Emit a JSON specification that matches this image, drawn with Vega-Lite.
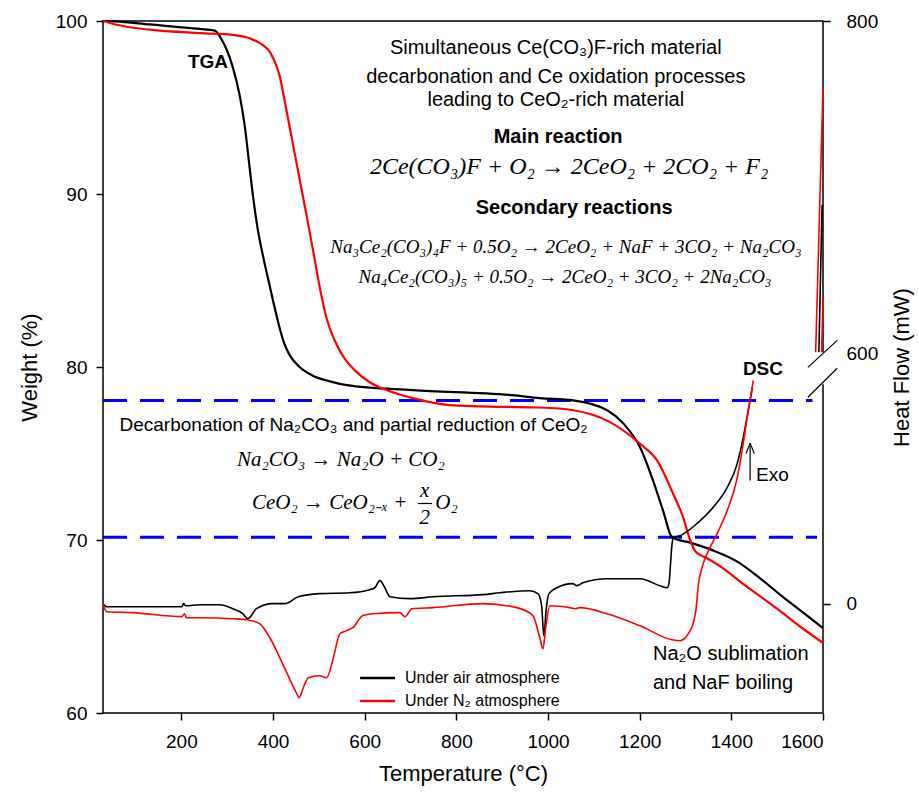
{
  "$schema": "https://vega.github.io/schema/vega-lite/v6.json",
  "width": 720,
  "height": 692,
  "autosize": {"type": "none"},
  "padding": {"left": 103, "top": 21, "right": 96, "bottom": 84},
  "background": "white",
  "config": {
    "font": "Liberation Sans",
    "view": {"stroke": "#000000", "strokeWidth": 1.5},
    "axis": {
      "grid": false, "domain": false, "tickColor": "#000000", "tickWidth": 1.5, "tickSize": 7,
      "labelColor": "#000000", "titleColor": "#000000", "labelFontSize": 19, "titleFontSize": 22,
      "titleFontWeight": "normal", "labelFont": "Liberation Sans", "titleFont": "Liberation Sans"
    }
  },
  "datasets": {
    "tga": [
      {"atm":"air","T":30,"w":100},{"atm":"air","T":54,"w":99.98},{"atm":"air","T":131,"w":99.8},{"atm":"air","T":240,"w":99.54},
      {"atm":"air","T":273,"w":99.44},{"atm":"air","T":288,"w":98.92},{"atm":"air","T":299,"w":98.34},{"atm":"air","T":312,"w":97.35},
      {"atm":"air","T":327,"w":95.73},{"atm":"air","T":338,"w":93.99},{"atm":"air","T":347,"w":91.97},{"atm":"air","T":356,"w":89.94},
      {"atm":"air","T":367,"w":87.91},{"atm":"air","T":380,"w":86.18},{"atm":"air","T":391,"w":84.9},{"atm":"air","T":402,"w":83.6},
      {"atm":"air","T":413,"w":82.4},{"atm":"air","T":424,"w":81.4},{"atm":"air","T":436,"w":80.7},{"atm":"air","T":458,"w":80.0},
      {"atm":"air","T":487,"w":79.5},{"atm":"air","T":524,"w":79.17},{"atm":"air","T":561,"w":78.95},{"atm":"air","T":705,"w":78.66},
      {"atm":"air","T":923,"w":78.37},{"atm":"air","T":982,"w":78.2},{"atm":"air","T":1055,"w":78.07},{"atm":"air","T":1129,"w":77.5},
      {"atm":"air","T":1164,"w":76.75},{"atm":"air","T":1201,"w":75.35},{"atm":"air","T":1229,"w":73.45},{"atm":"air","T":1251,"w":71.7},
      {"atm":"air","T":1271,"w":70.14},{"atm":"air","T":1310,"w":69.85},{"atm":"air","T":1360,"w":69.4},{"atm":"air","T":1413,"w":68.75},
      {"atm":"air","T":1462,"w":67.8},{"atm":"air","T":1513,"w":66.7},{"atm":"air","T":1557,"w":65.8},{"atm":"air","T":1600,"w":64.9},
      {"atm":"N2","T":30,"w":100},{"atm":"N2","T":59,"w":99.78},{"atm":"N2","T":131,"w":99.5},{"atm":"N2","T":240,"w":99.3},
      {"atm":"N2","T":312,"w":99.2},{"atm":"N2","T":349,"w":99.0},{"atm":"N2","T":378,"w":98.6},{"atm":"N2","T":393,"w":98.22},
      {"atm":"N2","T":406,"w":97.5},{"atm":"N2","T":415,"w":96.77},{"atm":"N2","T":426,"w":95.3},{"atm":"N2","T":436,"w":93.9},
      {"atm":"N2","T":452,"w":91.7},{"atm":"N2","T":465,"w":89.9},{"atm":"N2","T":487,"w":86.8},{"atm":"N2","T":502,"w":84.6},
      {"atm":"N2","T":517,"w":82.8},{"atm":"N2","T":535,"w":81.5},{"atm":"N2","T":556,"w":80.5},{"atm":"N2","T":578,"w":79.82},
      {"atm":"N2","T":611,"w":79.12},{"atm":"N2","T":655,"w":78.6},{"atm":"N2","T":705,"w":78.2},
      {"atm":"N2","T":786,"w":77.8},{"atm":"N2","T":900,"w":77.7},{"atm":"N2","T":982,"w":77.66},{"atm":"N2","T":1055,"w":77.5},
      {"atm":"N2","T":1129,"w":76.9},{"atm":"N2","T":1201,"w":75.56},{"atm":"N2","T":1238,"w":74.6},{"atm":"N2","T":1273,"w":72.67},
      {"atm":"N2","T":1295,"w":71.3},{"atm":"N2","T":1310,"w":70.0},{"atm":"N2","T":1320,"w":69.4},{"atm":"N2","T":1335,"w":69.1},
      {"atm":"N2","T":1347,"w":68.95},{"atm":"N2","T":1380,"w":68.4},{"atm":"N2","T":1419,"w":67.6},{"atm":"N2","T":1460,"w":66.8},
      {"atm":"N2","T":1506,"w":65.9},{"atm":"N2","T":1550,"w":65.0},{"atm":"N2","T":1600,"w":64.05}
    ],
    "dsc": [
      {"atm":"air","seg":"a","T":29,"hf":66.32},{"atm":"air","seg":"a","T":37,"hf":66.14},{"atm":"air","seg":"a","T":150,"hf":66.14},
      {"atm":"air","seg":"a","T":201,"hf":66.14},{"atm":"air","seg":"a","T":205,"hf":66.32},{"atm":"air","seg":"a","T":209,"hf":66.2},
      {"atm":"air","seg":"a","T":240,"hf":66.26},{"atm":"air","seg":"a","T":284,"hf":66.26},{"atm":"air","seg":"a","T":312,"hf":66.03},
      {"atm":"air","seg":"a","T":334,"hf":65.74},{"atm":"air","seg":"a","T":345,"hf":65.45},{"atm":"air","seg":"a","T":364,"hf":66.03},
      {"atm":"air","seg":"a","T":399,"hf":66.32},{"atm":"air","seg":"a","T":426,"hf":66.32},{"atm":"air","seg":"a","T":455,"hf":66.72},
      {"atm":"air","seg":"a","T":502,"hf":66.9},{"atm":"air","seg":"a","T":567,"hf":66.95},{"atm":"air","seg":"a","T":611,"hf":67.13},
      {"atm":"air","seg":"a","T":622,"hf":67.24},{"atm":"air","seg":"a","T":633,"hf":67.65},{"atm":"air","seg":"a","T":644,"hf":67.24},
      {"atm":"air","seg":"a","T":655,"hf":66.72},{"atm":"air","seg":"a","T":699,"hf":66.61},{"atm":"air","seg":"a","T":749,"hf":66.72},
      {"atm":"air","seg":"a","T":858,"hf":66.84},{"atm":"air","seg":"a","T":895,"hf":66.95},{"atm":"air","seg":"a","T":960,"hf":67.07},
      {"atm":"air","seg":"a","T":978,"hf":66.9},{"atm":"air","seg":"a","T":986,"hf":66.2},{"atm":"air","seg":"a","T":991,"hf":64.46},
      {"atm":"air","seg":"a","T":996,"hf":66.0},{"atm":"air","seg":"a","T":1002,"hf":66.9},{"atm":"air","seg":"a","T":1019,"hf":67.24},
      {"atm":"air","seg":"a","T":1054,"hf":67.48},{"atm":"air","seg":"a","T":1063,"hf":67.36},{"atm":"air","seg":"a","T":1076,"hf":67.53},
      {"atm":"air","seg":"a","T":1129,"hf":67.76},{"atm":"air","seg":"a","T":1201,"hf":67.76},{"atm":"air","seg":"a","T":1244,"hf":67.36},
      {"atm":"air","seg":"a","T":1260,"hf":67.24},{"atm":"air","seg":"a","T":1264,"hf":67.5},{"atm":"air","seg":"a","T":1267,"hf":68.5},
      {"atm":"air","seg":"a","T":1270,"hf":69.6},{"atm":"air","seg":"a","T":1273,"hf":70.14},{"atm":"air","seg":"a","T":1288,"hf":70.25},
      {"atm":"air","seg":"a","T":1325,"hf":70.95},{"atm":"air","seg":"a","T":1360,"hf":71.88},{"atm":"air","seg":"a","T":1391,"hf":73.04},
      {"atm":"air","seg":"a","T":1413,"hf":74.43},{"atm":"air","seg":"a","T":1426,"hf":75.93},{"atm":"air","seg":"a","T":1437,"hf":77.5},
      {"atm":"air","seg":"a","T":1446,"hf":78.83},
      {"atm":"air","seg":"b","T":1591,"hf":80.85},{"atm":"air","seg":"b","T":1598,"hf":89.36},
      {"atm":"N2","seg":"a","T":29,"hf":66.32},{"atm":"N2","seg":"a","T":37,"hf":65.85},{"atm":"N2","seg":"a","T":94,"hf":65.8},
      {"atm":"N2","seg":"a","T":201,"hf":65.57},{"atm":"N2","seg":"a","T":207,"hf":65.74},{"atm":"N2","seg":"a","T":211,"hf":65.51},
      {"atm":"N2","seg":"a","T":240,"hf":65.51},{"atm":"N2","seg":"a","T":312,"hf":65.45},{"atm":"N2","seg":"a","T":343,"hf":65.39},
      {"atm":"N2","seg":"a","T":371,"hf":65.16},{"atm":"N2","seg":"a","T":393,"hf":64.35},{"atm":"N2","seg":"a","T":421,"hf":62.84},
      {"atm":"N2","seg":"a","T":452,"hf":61.11},{"atm":"N2","seg":"a","T":457,"hf":60.88},{"atm":"N2","seg":"a","T":466,"hf":61.46},
      {"atm":"N2","seg":"a","T":477,"hf":62.04},{"atm":"N2","seg":"a","T":502,"hf":62.15},{"atm":"N2","seg":"a","T":517,"hf":62.04},
      {"atm":"N2","seg":"a","T":530,"hf":63.02},{"atm":"N2","seg":"a","T":546,"hf":64.58},{"atm":"N2","seg":"a","T":561,"hf":64.76},
      {"atm":"N2","seg":"a","T":574,"hf":64.93},{"atm":"N2","seg":"a","T":596,"hf":65.63},{"atm":"N2","seg":"a","T":618,"hf":65.74},
      {"atm":"N2","seg":"a","T":677,"hf":65.8},{"atm":"N2","seg":"a","T":688,"hf":65.57},{"atm":"N2","seg":"a","T":703,"hf":66.03},
      {"atm":"N2","seg":"a","T":749,"hf":66.09},{"atm":"N2","seg":"a","T":858,"hf":66.32},{"atm":"N2","seg":"a","T":932,"hf":66.09},
      {"atm":"N2","seg":"a","T":967,"hf":65.63},{"atm":"N2","seg":"a","T":982,"hf":64.35},{"atm":"N2","seg":"a","T":989,"hf":63.71},
      {"atm":"N2","seg":"a","T":995,"hf":64.93},{"atm":"N2","seg":"a","T":1004,"hf":66.2},{"atm":"N2","seg":"a","T":1047,"hf":66.09},
      {"atm":"N2","seg":"a","T":1059,"hf":66.03},{"atm":"N2","seg":"a","T":1069,"hf":66.09},{"atm":"N2","seg":"a","T":1129,"hf":65.74},
      {"atm":"N2","seg":"a","T":1201,"hf":65.04},{"atm":"N2","seg":"a","T":1271,"hf":64.23},{"atm":"N2","seg":"a","T":1288,"hf":64.18},
      {"atm":"N2","seg":"a","T":1306,"hf":64.58},{"atm":"N2","seg":"a","T":1318,"hf":65.3},{"atm":"N2","seg":"a","T":1323,"hf":66.0},
      {"atm":"N2","seg":"a","T":1328,"hf":67.4},{"atm":"N2","seg":"a","T":1336,"hf":68.4},{"atm":"N2","seg":"a","T":1347,"hf":69.2},
      {"atm":"N2","seg":"a","T":1369,"hf":70.37},{"atm":"N2","seg":"a","T":1391,"hf":71.7},{"atm":"N2","seg":"a","T":1413,"hf":73.61},
      {"atm":"N2","seg":"a","T":1426,"hf":75.58},{"atm":"N2","seg":"a","T":1437,"hf":77.5},{"atm":"N2","seg":"a","T":1448,"hf":79.23},
      {"atm":"N2","seg":"b","T":1584,"hf":80.85},{"atm":"N2","seg":"b","T":1600,"hf":96.14},
      {"atm":"N2","seg":"c","T":1597,"hf":80.85},{"atm":"N2","seg":"c","T":1600,"hf":84.03}
    ],
    "notes": [
      {"grp":"top","T":1017,"w":98.45,"label":"Simultaneous Ce(CO₃)F-rich material"},
      {"grp":"top","T":1017,"w":96.77,"label":"decarbonation and Ce oxidation processes"},
      {"grp":"top","T":1017,"w":95.44,"label":"leading to CeO₂-rich material"},
      {"grp":"bold18","T":1022,"w":93.3,"label":"Main reaction"},
      {"grp":"bold18","T":1057,"w":89.19,"label":"Secondary reactions"},
      {"grp":"bold19","T":258,"w":97.64,"label":"TGA"},
      {"grp":"bold19","T":1469,"w":79.88,"label":"DSC"},
      {"grp":"eqbig","T":1046,"w":91.56,"label":"2Ce(CO₃)F + O₂ → 2CeO₂ + 2CO₂ + F₂"},
      {"grp":"eqmid","T":1039,"w":86.93,"label":"Na₃Ce₂(CO₃)₄F + 0.5O₂ → 2CeO₂ + NaF + 3CO₂ + Na₂CO₃"},
      {"grp":"eqmid","T":1037,"w":85.19,"label":"Na₄Ce₂(CO₃)₅ + 0.5O₂ → 2CeO₂ + 3CO₂ + 2Na₂CO₃"},
      {"grp":"eqc","T":548,"w":74.6,"label":"Na₂CO₃ → Na₂O + CO₂"},
      {"grp":"eql","T":354,"w":72.11,"label":"CeO₂ → CeO₂₋ₓ +"},
      {"grp":"eql","T":754,"w":72.11,"label":"O₂"},
      {"grp":"frac","T":731,"w":72.86,"label":"x"},
      {"grp":"frac","T":731,"w":71.3,"label":"2"},
      {"grp":"sans17","T":65,"w":76.63,"label":"Decarbonation of Na₂CO₃ and partial reduction of CeO₂"},
      {"grp":"sans19","T":1229,"w":63.43,"label":"Na₂O sublimation"},
      {"grp":"sans19","T":1229,"w":61.75,"label":"and NaF boiling"},
      {"grp":"exo","T":1454,"w":73.73,"label":"Exo"},
      {"grp":"legend","T":688,"w":62.03,"label":"Under air atmosphere"},
      {"grp":"legend","T":688,"w":60.7,"label":"Under N₂ atmosphere"}
    ],
    "rules": [
      {"kind":"dash","T":29,"T2":1577,"w":78.07,"w2":78.07},
      {"kind":"dash","T":29,"T2":1587,"w":70.16,"w2":70.16},
      {"kind":"mask","T":1600,"T2":1600,"w":79.0,"w2":80.85},
      {"kind":"thin","T":1567,"T2":1631,"w":79.98,"w2":81.54},
      {"kind":"thin","T":1567,"T2":1631,"w":78.25,"w2":79.93},
      {"kind":"thin","T":1441,"T2":1441,"w":73.44,"w2":75.6},
      {"kind":"thin","T":1441,"T2":1432,"w":75.6,"w2":75.0},
      {"kind":"thin","T":1441,"T2":1450,"w":75.6,"w2":75.0},
      {"kind":"thin","T":716,"T2":747,"w":72.11,"w2":72.11}
    ],
    "legendlines": [
      {"atm":"air","T":590,"T2":666,"w":62.03},
      {"atm":"N2","T":590,"T2":666,"w":60.7}
    ]
  },
  "layer": [
    {
      "layer": [
        {
          "data": {"name": "rules"},
          "transform": [{"filter": "datum.kind === 'dash'"}],
          "mark": {"type": "rule", "color": "#0000ff", "strokeWidth": 3, "strokeDash": [24, 13]},
          "encoding": {
            "x": {"field": "T", "type": "quantitative", "scale": {"domain": [29, 1600], "nice": false, "zero": false}},
            "x2": {"field": "T2"},
            "y": {"field": "w", "type": "quantitative", "scale": {"domain": [60, 100], "nice": false, "zero": false}},
            "y2": {"field": "w2"}
          }
        },
        {
          "data": {"name": "tga"},
          "mark": {"type": "line", "strokeWidth": 2.2, "interpolate": "monotone"},
          "encoding": {
            "x": {"field": "T", "type": "quantitative", "scale": {"domain": [29, 1600], "nice": false, "zero": false},
              "axis": {"title": "Temperature (°C)", "format": "d", "values": [200, 400, 600, 800, 1000, 1200, 1400, 1600], "labelPadding": 12, "titlePadding": 12}},
            "y": {"field": "w", "type": "quantitative", "scale": {"domain": [60, 100], "nice": false, "zero": false},
              "axis": {"title": "Weight (%)", "orient": "left", "values": [60, 70, 80, 90, 100], "labelPadding": 9, "titlePadding": 14}},
            "color": {"field": "atm", "type": "nominal", "scale": {"domain": ["air", "N2"], "range": ["#000000", "#ff0000"]}, "legend": null}
          }
        },
        {
          "data": {"name": "rules"},
          "transform": [{"filter": "datum.kind === 'mask'"}],
          "mark": {"type": "rule", "color": "#ffffff", "strokeWidth": 4},
          "encoding": {
            "x": {"field": "T", "type": "quantitative"}, "x2": {"field": "T2"},
            "y": {"field": "w", "type": "quantitative"}, "y2": {"field": "w2"}
          }
        },
        {
          "data": {"name": "rules"},
          "transform": [{"filter": "datum.kind === 'thin'"}],
          "mark": {"type": "rule", "color": "#000000", "strokeWidth": 1.2},
          "encoding": {
            "x": {"field": "T", "type": "quantitative"}, "x2": {"field": "T2"},
            "y": {"field": "w", "type": "quantitative"}, "y2": {"field": "w2"}
          }
        },
        {
          "data": {"name": "legendlines"},
          "mark": {"type": "rule", "strokeWidth": 2.5},
          "encoding": {
            "x": {"field": "T", "type": "quantitative"}, "x2": {"field": "T2"},
            "y": {"field": "w", "type": "quantitative"},
            "color": {"field": "atm", "type": "nominal", "legend": null}
          }
        },
        {
          "data": {"name": "notes"},
          "transform": [{"filter": "datum.grp === 'top'"}],
          "mark": {"type": "text", "fontSize": 20, "align": "center", "baseline": "middle", "color": "#000000"},
          "encoding": {"x": {"field": "T", "type": "quantitative"}, "y": {"field": "w", "type": "quantitative"}, "text": {"field": "label"}}
        },
        {
          "data": {"name": "notes"},
          "transform": [{"filter": "datum.grp === 'bold18'"}],
          "mark": {"type": "text", "fontSize": 20, "fontWeight": "bold", "align": "center", "baseline": "middle", "color": "#000000"},
          "encoding": {"x": {"field": "T", "type": "quantitative"}, "y": {"field": "w", "type": "quantitative"}, "text": {"field": "label"}}
        },
        {
          "data": {"name": "notes"},
          "transform": [{"filter": "datum.grp === 'bold19'"}],
          "mark": {"type": "text", "fontSize": 19, "fontWeight": "bold", "align": "center", "baseline": "middle", "color": "#000000"},
          "encoding": {"x": {"field": "T", "type": "quantitative"}, "y": {"field": "w", "type": "quantitative"}, "text": {"field": "label"}}
        },
        {
          "data": {"name": "notes"},
          "transform": [{"filter": "datum.grp === 'eqbig'"}],
          "mark": {"type": "text", "font": "Liberation Serif", "fontStyle": "italic", "fontSize": 24, "align": "center", "baseline": "middle", "color": "#000000"},
          "encoding": {"x": {"field": "T", "type": "quantitative"}, "y": {"field": "w", "type": "quantitative"}, "text": {"field": "label"}}
        },
        {
          "data": {"name": "notes"},
          "transform": [{"filter": "datum.grp === 'eqmid'"}],
          "mark": {"type": "text", "font": "Liberation Serif", "fontStyle": "italic", "fontSize": 19, "align": "center", "baseline": "middle", "color": "#000000"},
          "encoding": {"x": {"field": "T", "type": "quantitative"}, "y": {"field": "w", "type": "quantitative"}, "text": {"field": "label"}}
        },
        {
          "data": {"name": "notes"},
          "transform": [{"filter": "datum.grp === 'eqc' || datum.grp === 'frac'"}],
          "mark": {"type": "text", "font": "Liberation Serif", "fontStyle": "italic", "fontSize": 21, "align": "center", "baseline": "middle", "color": "#000000"},
          "encoding": {"x": {"field": "T", "type": "quantitative"}, "y": {"field": "w", "type": "quantitative"}, "text": {"field": "label"}}
        },
        {
          "data": {"name": "notes"},
          "transform": [{"filter": "datum.grp === 'eql'"}],
          "mark": {"type": "text", "font": "Liberation Serif", "fontStyle": "italic", "fontSize": 21, "align": "left", "baseline": "middle", "color": "#000000"},
          "encoding": {"x": {"field": "T", "type": "quantitative"}, "y": {"field": "w", "type": "quantitative"}, "text": {"field": "label"}}
        },
        {
          "data": {"name": "notes"},
          "transform": [{"filter": "datum.grp === 'sans17'"}],
          "mark": {"type": "text", "fontSize": 19, "align": "left", "baseline": "middle", "color": "#000000"},
          "encoding": {"x": {"field": "T", "type": "quantitative"}, "y": {"field": "w", "type": "quantitative"}, "text": {"field": "label"}}
        },
        {
          "data": {"name": "notes"},
          "transform": [{"filter": "datum.grp === 'sans19'"}],
          "mark": {"type": "text", "fontSize": 20, "align": "left", "baseline": "middle", "color": "#000000"},
          "encoding": {"x": {"field": "T", "type": "quantitative"}, "y": {"field": "w", "type": "quantitative"}, "text": {"field": "label"}}
        },
        {
          "data": {"name": "notes"},
          "transform": [{"filter": "datum.grp === 'exo'"}],
          "mark": {"type": "text", "fontSize": 19, "align": "left", "baseline": "middle", "color": "#000000"},
          "encoding": {"x": {"field": "T", "type": "quantitative"}, "y": {"field": "w", "type": "quantitative"}, "text": {"field": "label"}}
        },
        {
          "data": {"name": "notes"},
          "transform": [{"filter": "datum.grp === 'legend'"}],
          "mark": {"type": "text", "fontSize": 16, "align": "left", "baseline": "middle", "color": "#000000"},
          "encoding": {"x": {"field": "T", "type": "quantitative"}, "y": {"field": "w", "type": "quantitative"}, "text": {"field": "label"}}
        }
      ]
    },
    {
      "data": {"name": "dsc"},
      "mark": {"type": "line", "strokeWidth": 1.6, "interpolate": "monotone"},
      "encoding": {
        "x": {"field": "T", "type": "quantitative", "scale": {"domain": [29, 1600], "nice": false, "zero": false}},
        "y": {"field": "hf", "type": "quantitative", "scale": {"domain": [60, 100], "nice": false, "zero": false},
          "axis": {"title": "Heat Flow (mW)", "orient": "right", "values": [66.32, 80.8, 100],
            "labelExpr": "datum.value < 70 ? '0' : (datum.value < 90 ? '600' : '800')",
            "tickOpacity": {"condition": {"test": "datum.value > 80 && datum.value < 90", "value": 0}, "value": 1},
            "titleAngle": 270, "titleBaseline": "top",
            "labelPadding": 16, "titlePadding": 14}},
        "color": {"field": "atm", "type": "nominal", "legend": null},
        "detail": {"field": "seg", "type": "nominal"}
      }
    }
  ],
  "resolve": {"scale": {"y": "independent"}, "axis": {"y": "independent"}}
}
